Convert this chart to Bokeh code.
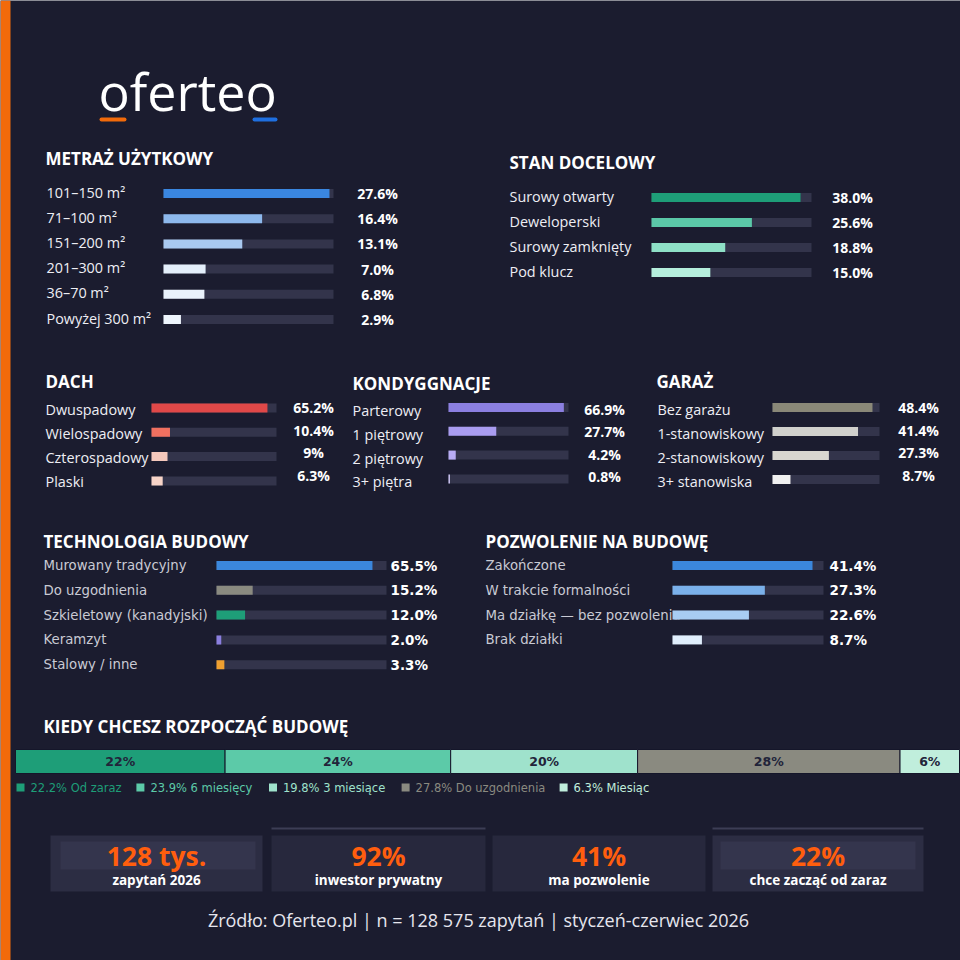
from bokeh.plotting import figure
from bokeh.models import Range1d
from bokeh.core.properties import value
from bokeh.embed import file_html
from bokeh.resources import INLINE

# ---------------- data ----------------
metraz_labels = ["101–150 m²", "71–100 m²", "151–200 m²", "201–300 m²", "36–70 m²", "Powyżej 300 m²"]
metraz_values = [27.6, 16.4, 13.1, 7.0, 6.8, 2.9]

stan_labels = ["Surowy otwarty", "Deweloperski", "Surowy zamknięty", "Pod klucz"]
stan_values = [38.0, 25.6, 18.8, 15.0]

dach_labels = ["Dwuspadowy", "Wielospadowy", "Czterospadowy", "Plaski"]
dach_values = [65.2, 10.4, 9.0, 6.3]
dach_texts = ["65.2%", "10.4%", "9%", "6.3%"]

kond_labels = ["Parterowy", "1 piętrowy", "2 piętrowy", "3+ piętra"]
kond_values = [66.9, 27.7, 4.2, 0.8]

garaz_labels = ["Bez garażu", "1-stanowiskowy", "2-stanowiskowy", "3+ stanowiska"]
garaz_values = [48.4, 41.4, 27.3, 8.7]

tech_labels = ["Murowany tradycyjny", "Do uzgodnienia", "Szkieletowy (kanadyjski)", "Keramzyt", "Stalowy / inne"]
tech_values = [65.5, 15.2, 12.0, 2.0, 3.3]

pozw_labels = ["Zakończone", "W trakcie formalności", "Ma działkę — bez pozwolenia", "Brak działki"]
pozw_values = [41.4, 27.3, 22.6, 8.7]

start_labels = ["Od zaraz", "6 miesięcy", "3 miesiące", "Do uzgodnienia", "Miesiąc"]
start_values = [22.2, 23.9, 19.8, 27.8, 6.3]

kpi_values = ["128 tys.", "92%", "41%", "22%"]
kpi_labels = ["zapytań 2026", "inwestor prywatny", "ma pozwolenie", "chce zacząć od zaraz"]

source_text = "Źródło: Oferteo.pl | n = 128 575 zapytań | styczeń-czerwiec 2026"

# ---------------- style ----------------
BG = "#1b1c2f"
TRACK = "#33344b"
ORANGE = "#f26a0a"
KPI_ORANGE = "#ff5e0e"
SANS = "Open Sans"
DJ = "DejaVu Sans"
TITLE_SIZE = "17px"

p = figure(width=960, height=960, x_range=Range1d(0, 960), y_range=Range1d(960, 0),
           output_backend="svg", toolbar_location=None,
           x_axis_location=None, y_axis_location=None, min_border=0)
p.grid.visible = False
p.outline_line_color = None
p.background_fill_color = BG
p.border_fill_color = BG

# orange side strip
p.quad(left=[0], right=[10], top=[0], bottom=[960], fill_color=ORANGE, line_color=None)

# logo
p.text(x=[98], y=[90], text=["oferteo"], text_font=value(SANS), text_font_size=value("52px"),
       text_color="#ffffff", text_baseline="middle", text_align="left")
p.segment(x0=[101, 254], y0=[119, 119], x1=[124, 275], y1=[119, 119],
          line_color=[ORANGE, "#1f6fe0"], line_width=4, line_cap="round")


def txt(x, y, t, size, color="#f2f2f7", font=SANS, bold=False, align="left", baseline="middle"):
    p.text(x=x, y=y, text=t, text_font=value(font), text_font_size=value(size),
           text_font_style="bold" if bold else "normal", text_color=color,
           text_align=align, text_baseline=baseline)


def panel(title, labels, values, vtexts, colors, cfg):
    n = len(labels)
    ys = [cfg["y0"] + i * cfg["step"] for i in range(n)]
    bys = [y + cfg.get("bar_dy", 0) for y in ys]
    vys = [cfg.get("v0", cfg["y0"]) + i * cfg.get("vstep", cfg["step"]) for i in range(n)]
    txt([cfg["tx"]], [cfg["ty"]], [title], TITLE_SIZE, "#ffffff", SANS, True)
    txt([cfg["lx"]] * n, ys, labels, cfg.get("lsize", "14.4px"), cfg.get("lcolor", "#eeeef4"),
        cfg.get("lfont", SANS))
    bx, bw, full = cfg["bx"], cfg["bw"], cfg["full"]
    p.hbar(y=bys, left=[bx] * n, right=[bx + bw] * n, height=9, fill_color=TRACK, line_color=None)
    p.hbar(y=bys, left=[bx] * n, right=[bx + v / full * bw for v in values], height=9,
           fill_color=colors, line_color=None)
    txt([cfg["vx"]] * n, vys, vtexts, cfg.get("vsize", "14px"), "#ffffff",
        cfg.get("vfont", SANS), True, cfg.get("valign", "center"))


pct = lambda vals: [f"{v:.1f}%" for v in vals]

panel("METRAŻ UŻYTKOWY", metraz_labels, metraz_values, pct(metraz_values),
      ["#3a86e0", "#8db8ec", "#a9c9f0", "#e3eefa", "#eaf2fc", "#eef5fd"],
      dict(tx=45, ty=158, lx=46, y0=191.5, step=25.2, bar_dy=1.5, v0=193, bx=163, bw=170, full=28.27, vx=377))

panel("STAN DOCELOWY", stan_labels, stan_values, pct(stan_values),
      ["#1e9e78", "#5bc8a8", "#8ee0c6", "#b5eedc"],
      dict(tx=509, ty=162, lx=509, y0=196, step=25, bar_dy=1, v0=197, bx=651, bw=160, full=40.8, vx=852))

panel("DACH", dach_labels, dach_values, dach_texts,
      ["#e04848", "#f07060", "#f5c8bc", "#f7d4c8"],
      dict(tx=45, ty=381, lx=45, y0=408.5, step=24.3, bar_dy=-1, v0=407, vstep=22.7,
           bx=151, bw=125, full=70.3, vx=313))

panel("KONDYGGNACJE", kond_labels, kond_values, pct(kond_values),
      ["#8b7fe0", "#a99cf0", "#b8acf5", "#d8d0ff"],
      dict(tx=352, ty=383, lx=352, y0=410, step=23.8, bar_dy=-3, v0=409, vstep=22.3,
           bx=448, bw=120, full=69.6, vx=604))

panel("GARAŻ", garaz_labels, garaz_values, pct(garaz_values),
      ["#8a8878", "#d0d0cc", "#d8d6d0", "#f0f0f0"],
      dict(tx=656, ty=381, lx=657, y0=409, step=24, bar_dy=-2, v0=407, vstep=22.7,
           bx=772, bw=107, full=51.8, vx=918))

panel("TECHNOLOGIA BUDOWY", tech_labels, tech_values, pct(tech_values),
      ["#3b87dd", "#8a8a80", "#1e9e78", "#8b7fe0", "#f0a030"],
      dict(tx=43, ty=541, lx=43, y0=565, step=24.8, bx=216, bw=170, full=71.4, vx=390,
           valign="left", lfont=DJ, lsize="13.3px", lcolor="#c9cad4", vfont=DJ, vsize="13.5px"))

panel("POZWOLENIE NA BUDOWĘ", pozw_labels, pozw_values, pct(pozw_values),
      ["#3b87dd", "#7ab0ea", "#a8ccf2", "#e0eefc"],
      dict(tx=485, ty=541, lx=485, y0=565, step=24.8, bx=672, bw=151, full=44.65, vx=829,
           valign="left", lfont=DJ, lsize="13.3px", lcolor="#c9cad4", vfont=DJ, vsize="13.5px"))

# ---------------- stacked bar ----------------
txt([43], [726], ["KIEDY CHCESZ ROZPOCZĄĆ BUDOWĘ"], TITLE_SIZE, "#ffffff", SANS, True)
seg_colors = ["#1e9e78", "#5ccaa8", "#9fe2cc", "#8a8a80", "#c0eedc"]
sx0, sw = 15, 944
lefts, rights, acc = [], [], 0.0
for v in start_values:
    lefts.append(sx0 + acc / 100 * sw)
    acc += v
    rights.append(sx0 + acc / 100 * sw)
p.hbar(y=[761] * 5, left=lefts, right=rights, height=24, fill_color=seg_colors,
       line_color="#15162a", line_width=1)
txt([(l + r) / 2 for l, r in zip(lefts, rights)], [761] * 5,
    [f"{round(v)}%" for v in start_values], "12.5px", "#22243a", DJ, True, "center")

# legend
lx = 16
sq_x, tx_x, leg_txt = [], [], []
for v, lab in zip(start_values, start_labels):
    s = f"{v:.1f}% {lab}"
    sq_x.append(lx)
    tx_x.append(lx + 14)
    leg_txt.append(s)
    lx = lx + 14 + len(s) * 6.35 + 17
p.rect(x=[x + 4 for x in sq_x], y=[787] * 5, width=8, height=8, fill_color=seg_colors, line_color=None)
p.text(x=tx_x, y=[787] * 5, text=leg_txt, text_font=value(DJ), text_font_size=value("11.5px"),
       text_color=seg_colors, text_align="left", text_baseline="middle")

# ---------------- KPI boxes ----------------
box_l = [50, 271, 492, 712]
box_r = [262, 485, 705, 923]
p.quad(left=box_l, right=box_r, top=[835] * 4, bottom=[891] * 4,
       fill_color=["#2c2d43", "#27283d", "#27283d", "#2c2d43"], line_color=None)
p.quad(left=[60, 720], right=[255, 915], top=[841, 841], bottom=[869, 869],
       fill_color="#34354d", line_color=None)
p.segment(x0=[271, 712], y0=[828, 828], x1=[485, 923], y1=[828, 828],
          line_color="#3c3d55", line_width=2)
cx = [(l + r) / 2 for l, r in zip(box_l, box_r)]
txt(cx, [855] * 4, kpi_values, "26.5px", KPI_ORANGE, SANS, True, "center")
txt(cx, [879] * 4, kpi_labels, "13.5px", "#ffffff", SANS, True, "center")

# source
txt([478], [919], [source_text], "18px", "#e6e6ee", SANS, False, "center")

open("out.html", "w").write(file_html(p, INLINE))
